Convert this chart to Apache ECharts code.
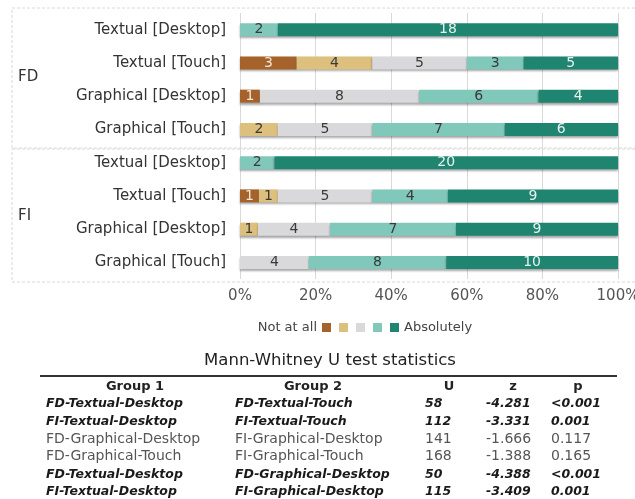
<!DOCTYPE html>
<html><head><meta charset="utf-8">
<script src="https://cdn.jsdelivr.net/npm/echarts@6/dist/echarts.min.js"></script>
<style>html,body{margin:0;padding:0;background:#fff}#c{width:635px;height:499px}</style>
</head><body><div id="c"></div>
<script>
var groups = ['FD','FD','FD','FD','FI','FI','FI','FI'];
var categories = ['Textual [Desktop]','Textual [Touch]','Graphical [Desktop]','Graphical [Touch]','Textual [Desktop]','Textual [Touch]','Graphical [Desktop]','Graphical [Touch]'];
var seriesNames = ['Not at all','Level 2','Level 3','Level 4','Absolutely'];
var notAtAll   = [0,3,1,0, 0,1,0,0];
var level2     = [0,4,0,2, 0,1,1,0];
var level3     = [0,5,8,5, 0,5,4,4];
var level4     = [2,3,6,7, 2,4,7,8];
var absolutely = [18,5,4,6, 20,9,9,10];
var xTicks = ['0%','20%','40%','60%','80%','100%'];

var tableTitle = 'Mann-Whitney U test statistics';
var tableHeader = ['Group 1','Group 2','U','z','p'];
var group1 = ['FD-Textual-Desktop','FI-Textual-Desktop','FD-Graphical-Desktop','FD-Graphical-Touch','FD-Textual-Desktop','FI-Textual-Desktop'];
var group2 = ['FD-Textual-Touch','FI-Textual-Touch','FI-Graphical-Desktop','FI-Graphical-Touch','FD-Graphical-Desktop','FI-Graphical-Desktop'];
var uVals = ['58','112','141','168','50','115'];
var zVals = ['-4.281','-3.331','-1.666','-1.388','-4.388','-3.409'];
var pVals = ['<0.001','0.001','0.117','0.165','<0.001','0.001'];
var significant = [true,true,false,false,true,true];

var FONT = 'DejaVu Sans';
var colors = ['#A5622A','#DDBF7E','#D9D9DB','#80C8BA','#1F8470'];
var labelColors = ['#f4e6d8','#3a3a3a','#3a3a3a','#3a3a3a','#e6f3ef'];
var allCounts = [notAtAll, level2, level3, level4, absolutely];
var totals = categories.map(function(_, i){ var s=0; allCounts.forEach(function(a){ s+=a[i]; }); return s; });
var catKeys = categories.map(function(c,i){ return groups[i]+'|'+c; });

var series = allCounts.map(function(arr, k){
  return {
    name: seriesNames[k], type: 'bar', stack: 'all', barWidth: 13,
    itemStyle: { color: colors[k], shadowColor: 'rgba(0,0,0,0.35)', shadowOffsetY: 2, shadowBlur: 2 },
    label: { show: true, color: labelColors[k], fontFamily: FONT, fontSize: 14,
      formatter: function(p){ return p.data.count ? String(p.data.count) : ''; } },
    data: arr.map(function(v, i){ return { value: v / totals[i] * 100, count: v }; })
  };
});

var graphics = [
  { type:'rect', shape:{x:12,y:8,width:640,height:140}, style:{fill:'none',stroke:'#d8d8d8',lineWidth:1,lineDash:[3,2]}, silent:true },
  { type:'rect', shape:{x:12,y:149,width:640,height:133}, style:{fill:'none',stroke:'#d8d8d8',lineWidth:1,lineDash:[3,2]}, silent:true },
  { type:'text', x:18, y:77, style:{text:'FD', font:'15px '+FONT, fill:'#333', verticalAlign:'middle'} },
  { type:'text', x:18, y:216, style:{text:'FI', font:'15px '+FONT, fill:'#333', verticalAlign:'middle'} },
  { type:'text', x:330, y:361, style:{text:tableTitle, font:'16.5px '+FONT, fill:'#222', align:'center', verticalAlign:'middle'} },
  { type:'rect', shape:{x:40,y:375,width:577,height:2}, style:{fill:'#333'}, silent:true }
];
var headerX = [135, 313, 449, 513, 578];
tableHeader.forEach(function(h, j){
  graphics.push({ type:'text', x: headerX[j], y: 387, style:{ text:h, font:'bold 13px '+FONT, fill:'#222', align:'center', verticalAlign:'middle' } });
});
var colX = [46, 235, 425, 486, 551];
var cols = [group1, group2, uVals, zVals, pVals];
for (var r = 0; r < group1.length; r++) {
  var sig = significant[r];
  cols.forEach(function(col, j){
    graphics.push({ type:'text', x: colX[j], y: 404 + r*17.6,
      style:{ text: col[r], font: (sig ? 'italic bold 12.5px ' : '14px ') + FONT, fill: sig ? '#1a1a1a' : '#555', verticalAlign:'middle' } });
  });
}

var chart = echarts.init(document.getElementById('c'));
chart.setOption({
  animation: false,
  backgroundColor: '#fff',
  grid: { left: 240, right: 17, top: 13, bottom: 499-279, outerBoundsMode: 'none', containLabel: false },
  xAxis: { type: 'value', min: 0, max: 100, interval: 20,
    axisLabel: { color: '#555', fontFamily: FONT, fontSize: 15, margin: 10,
      formatter: function(v){ return xTicks[Math.round(v/20)]; } },
    splitLine: { lineStyle: { color: '#d9d9d9', width: 1 } },
    axisLine: { show: false }, axisTick: { show: false } },
  yAxis: { type: 'category', inverse: true, data: catKeys,
    axisLabel: { color: '#333', fontFamily: FONT, fontSize: 15, margin: 14,
      formatter: function(v){ return v.split('|')[1]; } },
    axisLine: { show: false }, axisTick: { show: false }, splitLine: { show: false } },
  legend: [
    { data: ['Not at all'], right: 635-331, top: 321, padding: 0, align: 'right', icon: 'rect', itemWidth: 9, itemHeight: 9,
      itemStyle: { shadowBlur: 0, shadowOffsetY: 0 }, textStyle: { fontFamily: FONT, fontSize: 13, color: '#444' } },
    { data: ['Level 2','Level 3','Level 4','Absolutely'], left: 339, top: 321, padding: 0, icon: 'rect', itemWidth: 9, itemHeight: 9, itemGap: 8,
      itemStyle: { shadowBlur: 0, shadowOffsetY: 0 },
      formatter: function(n){ return n === 'Absolutely' ? n : ''; },
      textStyle: { fontFamily: FONT, fontSize: 13, color: '#444' } }
  ],
  graphic: graphics,
  series: series
});
</script></body></html>
